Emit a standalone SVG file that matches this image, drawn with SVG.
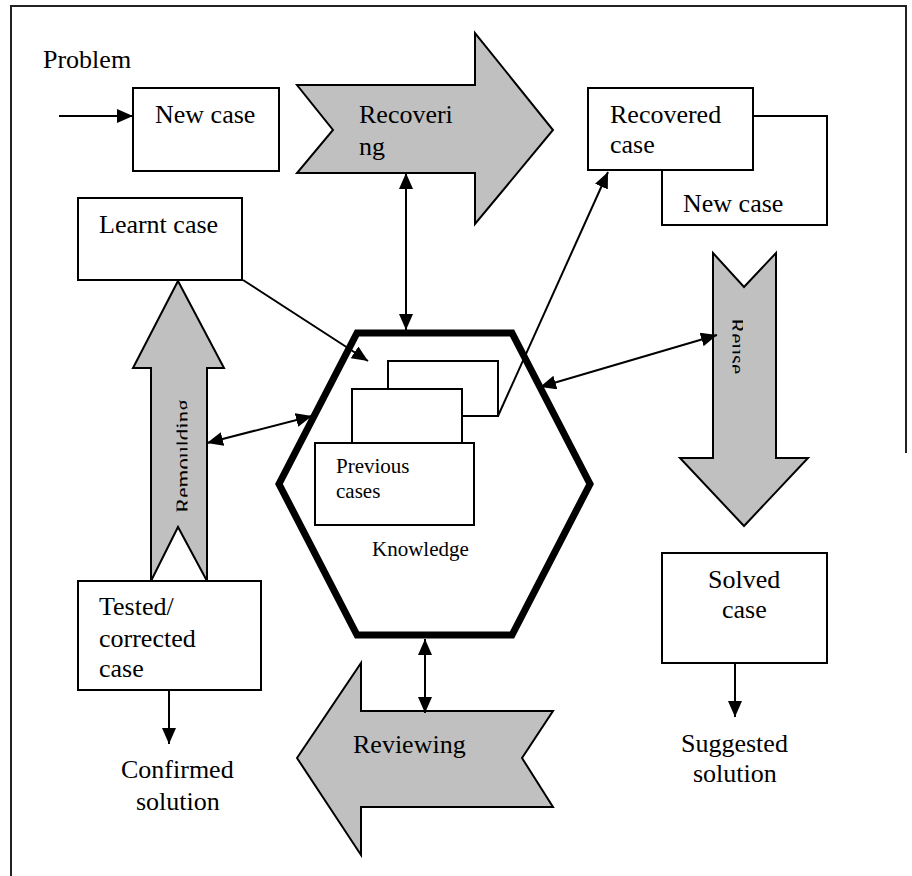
<svg xmlns="http://www.w3.org/2000/svg" width="912" height="876" viewBox="0 0 912 876" font-family="'Liberation Serif', 'Times New Roman', Times, serif">
<style>
text{font-family:'Liberation Serif','Times New Roman',Times,serif;fill:#000}
.t{font-size:26px}
.s{font-size:21px}
.v{font-size:23px}
.box{fill:#fff;stroke:#000;stroke-width:2}
.big{fill:#c0c0c0;stroke:#000;stroke-width:2;stroke-linejoin:miter}
.c{fill:none;stroke:#000;stroke-width:2}
.frame{fill:none;stroke:#222;stroke-width:2}
</style>
<defs>
<marker id="ah" markerUnits="userSpaceOnUse" markerWidth="16" markerHeight="14" refX="16" refY="7" orient="auto-start-reverse"><path d="M0,0 L16,7 L0,14 z" fill="#000"/></marker>
<clipPath id="clipRem"><rect x="176.5" y="380" width="11" height="160"/></clipPath>
<clipPath id="clipReu"><rect x="732.5" y="300" width="10.5" height="100"/></clipPath>
</defs>
<g id="frame">
<path class="frame" d="M11,876 V6 H906 V453"/>
</g>
<g id="problem"><text class="t" x="43" y="68">Problem</text></g>
<g id="newcase"><rect class="box" x="133" y="88" width="146" height="83"/><text class="t" x="155" y="123">New case</text></g>
<g id="recovering"><polygon class="big" points="297,85 475,85 475,33 553,130 475,224 475,173 297,173 333,130"/><text class="t" x="359" y="123">Recoveri</text><text class="t" x="359" y="155">ng</text></g>
<g id="newcase2"><rect class="box" x="662" y="116" width="165" height="109"/><text class="t" x="683" y="212">New case</text></g>
<g id="recovered"><rect class="box" x="588" y="88" width="165" height="82"/><text class="t" x="610" y="123">Recovered</text><text class="t" x="610" y="153">case</text></g>
<g id="learnt"><rect class="box" x="78" y="198" width="164" height="82"/><text class="t" x="99" y="233">Learnt case</text></g>
<g id="remoulding"><polygon class="big" points="178,281 224,368 207,368 207,581 178,527 151,581 151,368 133,368"/><g clip-path="url(#clipRem)"><text class="v" transform="translate(191,513) rotate(-90)">Remoulding</text></g></g>
<g id="reuse"><polygon class="big" points="713,253 744,287 776,253 776,458 808,458 744,526 680,458 713,458"/><g clip-path="url(#clipReu)"><text class="v" transform="translate(729,318) rotate(90)">Reuse</text></g></g>
<g id="knowledge">
<polygon points="357,333 512,333 590,484 512,635 357,635 279,484" fill="#fff" stroke="#000" stroke-width="7" stroke-linejoin="miter"/>
<rect class="box" x="388" y="361" width="110" height="55"/>
<rect class="box" x="352" y="389" width="110" height="54"/>
<rect class="box" x="315" y="443" width="159" height="82"/>
<text class="s" x="336" y="473">Previous</text><text class="s" x="336" y="498">cases</text>
<text class="s" x="372" y="556">Knowledge</text>
</g>
<g id="tested"><rect class="box" x="78" y="581" width="183" height="109"/><text class="t" x="99" y="615">Tested/</text><text class="t" x="99" y="647">corrected</text><text class="t" x="99" y="677">case</text></g>
<g id="confirmed"><text class="t" x="121" y="778">Confirmed</text><text class="t" x="136" y="810">solution</text></g>
<g id="reviewing"><polygon class="big" points="297,758 361,663 361,711 553,711 522,758 553,807 361,807 361,855"/><text class="t" x="353" y="753">Reviewing</text></g>
<g id="solved"><rect class="box" x="662" y="553" width="165" height="110"/><text class="t" x="708" y="588">Solved</text><text class="t" x="722" y="618">case</text></g>
<g id="suggested"><text class="t" x="681" y="752">Suggested</text><text class="t" x="693" y="782">solution</text></g>
<g id="connectors">
<line class="c" x1="59" y1="116" x2="133" y2="116" marker-end="url(#ah)"/>
<line class="c" x1="406" y1="330" x2="406" y2="173" marker-start="url(#ah)" marker-end="url(#ah)"/>
<line class="c" x1="498" y1="416" x2="608" y2="172" marker-end="url(#ah)"/>
<line class="c" x1="243" y1="280" x2="368" y2="361" marker-end="url(#ah)"/>
<line class="c" x1="207" y1="443" x2="312" y2="416" marker-start="url(#ah)" marker-end="url(#ah)"/>
<line class="c" x1="540" y1="387" x2="717" y2="335" marker-start="url(#ah)" marker-end="url(#ah)"/>
<line class="c" x1="425" y1="639" x2="425" y2="713" marker-start="url(#ah)" marker-end="url(#ah)"/>
<line class="c" x1="169" y1="690" x2="169" y2="744" marker-end="url(#ah)"/>
<line class="c" x1="735" y1="663" x2="735" y2="717" marker-end="url(#ah)"/>
</g>
</svg>
